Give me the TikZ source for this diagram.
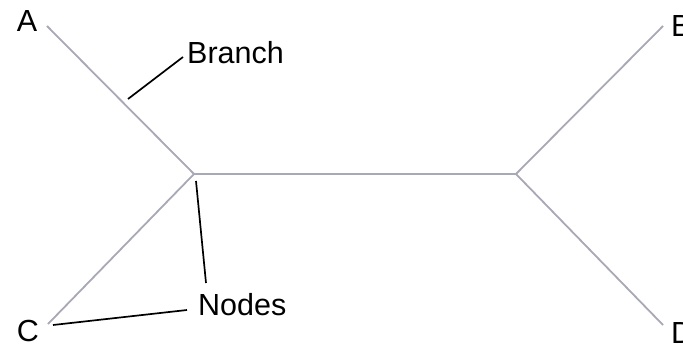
\documentclass[tikz,border=0pt]{standalone}
\usepackage{fontspec}
\setmainfont{Liberation Sans}
\definecolor{brgray}{RGB}{168,168,182}
\begin{document}
\begin{tikzpicture}[x=1pt,y=-1pt,
  branchline/.style={draw=brgray, line width=1.8pt},
  leader/.style={draw=black, line width=1.7pt},
  lbl/.style={font=\fontsize{30.5}{36}\selectfont, inner sep=0pt}]
\useasboundingbox (0,0) rectangle (683,348);
\coordinate (nl) at (194,174);
\coordinate (nr) at (516,174);
\coordinate (ea) at (47,26);
\coordinate (eb) at (663,26);
\coordinate (ec) at (48,324);
\coordinate (ed) at (663,325);
\node[lbl] (A) at (27,21) {A};
\node[lbl] (C) at (28,331) {C};
\node[lbl, anchor=west] (B) at (671,26) {B};
\node[lbl, anchor=west] (D) at (671,333) {D};
\node[lbl, anchor=west] (branch) at (187,53) {Branch};
\node[lbl, anchor=west] (nodes) at (198,305) {Nodes};
\draw[branchline] (ea) -- (nl) -- (nr) -- (eb);
\draw[branchline] (ec) -- (nl);
\draw[branchline] (nr) -- (ed);
\coordinate (bp) at (128,99);
\coordinate (bq) at (183,57);
\coordinate (np) at (196,181);
\coordinate (nq) at (206,283);
\coordinate (cp) at (53,325);
\coordinate (cq) at (187,310);
\draw[leader] (bp) -- (bq);
\draw[leader] (np) -- (nq);
\draw[leader] (cp) -- (cq);
\end{tikzpicture}
\end{document}
